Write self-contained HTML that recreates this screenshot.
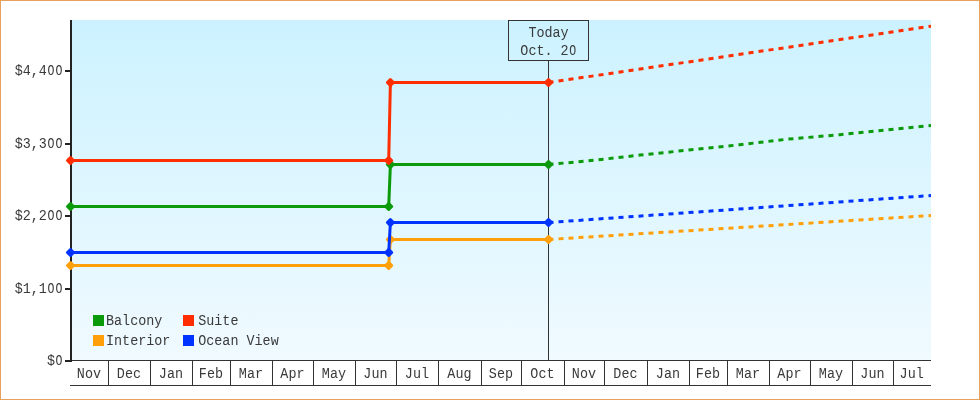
<!DOCTYPE html>
<html><head><meta charset="utf-8"><title>Chart</title>
<style>
html,body{margin:0;padding:0;background:#fff;}
body{width:980px;height:400px;overflow:hidden;}
svg{display:block;will-change:transform;font-family:"Liberation Mono",monospace;font-size:15px;}
</style></head><body>
<svg width="980" height="400" viewBox="0 0 980 400">
<defs>
<linearGradient id="bg" x1="0" y1="0" x2="0" y2="1">
<stop offset="0" stop-color="#ccf2ff"/><stop offset="1" stop-color="#f0faff"/>
</linearGradient>
<clipPath id="plot"><rect x="60" y="20" width="871" height="345"/></clipPath>
</defs>
<rect x="0" y="0" width="980" height="400" fill="#ffffff"/>
<rect x="0.5" y="0.5" width="979" height="399" fill="none" stroke="#e8a05a" stroke-width="1"/>
<rect x="72" y="20" width="859" height="340" fill="url(#bg)"/>

<rect x="72" y="360" width="859" height="1" fill="#333333"/>
<rect x="70" y="385" width="861" height="1" fill="#333333"/>
<rect x="108" y="360" width="1" height="25" fill="#333333"/>
<rect x="150" y="360" width="1" height="25" fill="#333333"/>
<rect x="192" y="360" width="1" height="25" fill="#333333"/>
<rect x="230" y="360" width="1" height="25" fill="#333333"/>
<rect x="272" y="360" width="1" height="25" fill="#333333"/>
<rect x="313" y="360" width="1" height="25" fill="#333333"/>
<rect x="355" y="360" width="1" height="25" fill="#333333"/>
<rect x="396" y="360" width="1" height="25" fill="#333333"/>
<rect x="438" y="360" width="1" height="25" fill="#333333"/>
<rect x="481" y="360" width="1" height="25" fill="#333333"/>
<rect x="521" y="360" width="1" height="25" fill="#333333"/>
<rect x="564" y="360" width="1" height="25" fill="#333333"/>
<rect x="604" y="360" width="1" height="25" fill="#333333"/>
<rect x="647" y="360" width="1" height="25" fill="#333333"/>
<rect x="689" y="360" width="1" height="25" fill="#333333"/>
<rect x="727" y="360" width="1" height="25" fill="#333333"/>
<rect x="769" y="360" width="1" height="25" fill="#333333"/>
<rect x="810" y="360" width="1" height="25" fill="#333333"/>
<rect x="852" y="360" width="1" height="25" fill="#333333"/>
<rect x="893" y="360" width="1" height="25" fill="#333333"/>
<text xml:space="preserve" transform="translate(88.9,378) scale(0.895,1)" text-anchor="middle" fill="#3a3a3a">Nov</text>
<text xml:space="preserve" transform="translate(128.9,378) scale(0.895,1)" text-anchor="middle" fill="#3a3a3a">Dec</text>
<text xml:space="preserve" transform="translate(170.9,378) scale(0.895,1)" text-anchor="middle" fill="#3a3a3a">Jan</text>
<text xml:space="preserve" transform="translate(210.9,378) scale(0.895,1)" text-anchor="middle" fill="#3a3a3a">Feb</text>
<text xml:space="preserve" transform="translate(250.9,378) scale(0.895,1)" text-anchor="middle" fill="#3a3a3a">Mar</text>
<text xml:space="preserve" transform="translate(292.4,378) scale(0.895,1)" text-anchor="middle" fill="#3a3a3a">Apr</text>
<text xml:space="preserve" transform="translate(333.9,378) scale(0.895,1)" text-anchor="middle" fill="#3a3a3a">May</text>
<text xml:space="preserve" transform="translate(375.4,378) scale(0.895,1)" text-anchor="middle" fill="#3a3a3a">Jun</text>
<text xml:space="preserve" transform="translate(416.9,378) scale(0.895,1)" text-anchor="middle" fill="#3a3a3a">Jul</text>
<text xml:space="preserve" transform="translate(459.4,378) scale(0.895,1)" text-anchor="middle" fill="#3a3a3a">Aug</text>
<text xml:space="preserve" transform="translate(500.9,378) scale(0.895,1)" text-anchor="middle" fill="#3a3a3a">Sep</text>
<text xml:space="preserve" transform="translate(542.4,378) scale(0.895,1)" text-anchor="middle" fill="#3a3a3a">Oct</text>
<text xml:space="preserve" transform="translate(583.9,378) scale(0.895,1)" text-anchor="middle" fill="#3a3a3a">Nov</text>
<text xml:space="preserve" transform="translate(625.4,378) scale(0.895,1)" text-anchor="middle" fill="#3a3a3a">Dec</text>
<text xml:space="preserve" transform="translate(667.9,378) scale(0.895,1)" text-anchor="middle" fill="#3a3a3a">Jan</text>
<text xml:space="preserve" transform="translate(707.9,378) scale(0.895,1)" text-anchor="middle" fill="#3a3a3a">Feb</text>
<text xml:space="preserve" transform="translate(747.9,378) scale(0.895,1)" text-anchor="middle" fill="#3a3a3a">Mar</text>
<text xml:space="preserve" transform="translate(789.4,378) scale(0.895,1)" text-anchor="middle" fill="#3a3a3a">Apr</text>
<text xml:space="preserve" transform="translate(830.9,378) scale(0.895,1)" text-anchor="middle" fill="#3a3a3a">May</text>
<text xml:space="preserve" transform="translate(872.4,378) scale(0.895,1)" text-anchor="middle" fill="#3a3a3a">Jun</text>
<text xml:space="preserve" transform="translate(911.65,378) scale(0.895,1)" text-anchor="middle" fill="#3a3a3a">Jul</text>
<rect x="70" y="20" width="2" height="342" fill="#222222"/>
<rect x="65" y="70" width="6" height="2" fill="#222222"/>
<text transform="translate(50.92,75) scale(0.770,1)" text-anchor="middle" fill="#3a3a3a">O</text>
<text transform="translate(58.97,75) scale(0.770,1)" text-anchor="middle" fill="#3a3a3a">O</text>
<text xml:space="preserve" transform="translate(63,75) scale(0.895,1)" text-anchor="end" fill="#3a3a3a">$4,4  </text>
<rect x="65" y="143" width="6" height="2" fill="#222222"/>
<text transform="translate(50.92,148) scale(0.770,1)" text-anchor="middle" fill="#3a3a3a">O</text>
<text transform="translate(58.97,148) scale(0.770,1)" text-anchor="middle" fill="#3a3a3a">O</text>
<text xml:space="preserve" transform="translate(63,148) scale(0.895,1)" text-anchor="end" fill="#3a3a3a">$3,3  </text>
<rect x="65" y="215" width="6" height="2" fill="#222222"/>
<text transform="translate(50.92,220) scale(0.770,1)" text-anchor="middle" fill="#3a3a3a">O</text>
<text transform="translate(58.97,220) scale(0.770,1)" text-anchor="middle" fill="#3a3a3a">O</text>
<text xml:space="preserve" transform="translate(63,220) scale(0.895,1)" text-anchor="end" fill="#3a3a3a">$2,2  </text>
<rect x="65" y="288" width="6" height="2" fill="#222222"/>
<text transform="translate(50.92,293) scale(0.770,1)" text-anchor="middle" fill="#3a3a3a">O</text>
<text transform="translate(58.97,293) scale(0.770,1)" text-anchor="middle" fill="#3a3a3a">O</text>
<text xml:space="preserve" transform="translate(63,293) scale(0.895,1)" text-anchor="end" fill="#3a3a3a">$1,1  </text>
<rect x="65" y="360" width="6" height="2" fill="#222222"/>
<text transform="translate(58.97,365) scale(0.770,1)" text-anchor="middle" fill="#3a3a3a">O</text>
<text xml:space="preserve" transform="translate(63,365) scale(0.895,1)" text-anchor="end" fill="#3a3a3a">$ </text>
<rect x="548" y="60" width="1" height="300" fill="#333333"/>
<rect x="508.5" y="20.5" width="80" height="40" fill="none" stroke="#333333" stroke-width="1"/>
<text xml:space="preserve" transform="translate(548.5,37) scale(0.895,1)" text-anchor="middle" fill="#3a3a3a">Today</text>
<text transform="translate(572.66,55) scale(0.770,1)" text-anchor="middle" fill="#3a3a3a">O</text>
<text xml:space="preserve" transform="translate(548.5,55) scale(0.895,1)" text-anchor="middle" fill="#3a3a3a">Oct. 2 </text>
<g clip-path="url(#plot)">
<polyline points="70.5,206.5 388.7,206.5 390.4,164.5 548.5,164.5" fill="none" stroke="#0a9a0a" stroke-width="3" stroke-linejoin="round"/>
<polyline points="548.5,164.5 591,160.6 640,155.1 740,144.7 787,139.2 840,134.7 931,125.5" fill="none" stroke="#0a9a0a" stroke-width="3" pathLength="382.5" stroke-dasharray="5 5"/>
<path d="M67.5,206.5 L70.5,203.5 L73.5,206.5 L70.5,209.5 Z" fill="#0a9a0a" stroke="#0a9a0a" stroke-width="3" stroke-linejoin="round"/>
<path d="M385.7,206.5 L388.7,203.5 L391.7,206.5 L388.7,209.5 Z" fill="#0a9a0a" stroke="#0a9a0a" stroke-width="3" stroke-linejoin="round"/>
<path d="M387.4,164.5 L390.4,161.5 L393.4,164.5 L390.4,167.5 Z" fill="#0a9a0a" stroke="#0a9a0a" stroke-width="3" stroke-linejoin="round"/>
<path d="M545.5,164.5 L548.5,161.5 L551.5,164.5 L548.5,167.5 Z" fill="#0a9a0a" stroke="#0a9a0a" stroke-width="3" stroke-linejoin="round"/>
<polyline points="70.5,160.5 388.7,160.5 390.4,82.5 548.5,82.5" fill="none" stroke="#ff2d00" stroke-width="3" stroke-linejoin="round"/>
<polyline points="548.5,82.5 931,26.2" fill="none" stroke="#ff2d00" stroke-width="3" pathLength="382.5" stroke-dasharray="5 5"/>
<path d="M67.5,160.5 L70.5,157.5 L73.5,160.5 L70.5,163.5 Z" fill="#ff2d00" stroke="#ff2d00" stroke-width="3" stroke-linejoin="round"/>
<path d="M385.7,160.5 L388.7,157.5 L391.7,160.5 L388.7,163.5 Z" fill="#ff2d00" stroke="#ff2d00" stroke-width="3" stroke-linejoin="round"/>
<path d="M387.4,82.5 L390.4,79.5 L393.4,82.5 L390.4,85.5 Z" fill="#ff2d00" stroke="#ff2d00" stroke-width="3" stroke-linejoin="round"/>
<path d="M545.5,82.5 L548.5,79.5 L551.5,82.5 L548.5,85.5 Z" fill="#ff2d00" stroke="#ff2d00" stroke-width="3" stroke-linejoin="round"/>
<polyline points="70.5,265.5 388.7,265.5 390.4,239.5 548.5,239.5" fill="none" stroke="#ffa00a" stroke-width="3" stroke-linejoin="round"/>
<polyline points="548.5,239.5 931,215.5" fill="none" stroke="#ffa00a" stroke-width="3" pathLength="382.5" stroke-dasharray="5 5"/>
<path d="M67.5,265.5 L70.5,262.5 L73.5,265.5 L70.5,268.5 Z" fill="#ffa00a" stroke="#ffa00a" stroke-width="3" stroke-linejoin="round"/>
<path d="M385.7,265.5 L388.7,262.5 L391.7,265.5 L388.7,268.5 Z" fill="#ffa00a" stroke="#ffa00a" stroke-width="3" stroke-linejoin="round"/>
<path d="M387.4,239.5 L390.4,236.5 L393.4,239.5 L390.4,242.5 Z" fill="#ffa00a" stroke="#ffa00a" stroke-width="3" stroke-linejoin="round"/>
<path d="M545.5,239.5 L548.5,236.5 L551.5,239.5 L548.5,242.5 Z" fill="#ffa00a" stroke="#ffa00a" stroke-width="3" stroke-linejoin="round"/>
<polyline points="70.5,252.5 388.7,252.5 390.4,222.5 548.5,222.5" fill="none" stroke="#0033ff" stroke-width="3" stroke-linejoin="round"/>
<polyline points="548.5,222.5 931,195.5" fill="none" stroke="#0033ff" stroke-width="3" pathLength="382.5" stroke-dasharray="5 5"/>
<path d="M67.5,252.5 L70.5,249.5 L73.5,252.5 L70.5,255.5 Z" fill="#0033ff" stroke="#0033ff" stroke-width="3" stroke-linejoin="round"/>
<path d="M385.7,252.5 L388.7,249.5 L391.7,252.5 L388.7,255.5 Z" fill="#0033ff" stroke="#0033ff" stroke-width="3" stroke-linejoin="round"/>
<path d="M387.4,222.5 L390.4,219.5 L393.4,222.5 L390.4,225.5 Z" fill="#0033ff" stroke="#0033ff" stroke-width="3" stroke-linejoin="round"/>
<path d="M545.5,222.5 L548.5,219.5 L551.5,222.5 L548.5,225.5 Z" fill="#0033ff" stroke="#0033ff" stroke-width="3" stroke-linejoin="round"/>
</g>
<rect x="93" y="315" width="11" height="11" fill="#0a9a0a"/>
<text xml:space="preserve" transform="translate(106.0,325) scale(0.895,1)" text-anchor="start" fill="#3a3a3a">Balcony</text>
<rect x="183" y="315" width="11" height="11" fill="#ff2d00"/>
<text xml:space="preserve" transform="translate(198.2,325) scale(0.895,1)" text-anchor="start" fill="#3a3a3a">Suite</text>
<rect x="93" y="335" width="11" height="11" fill="#ffa00a"/>
<text xml:space="preserve" transform="translate(106.0,345) scale(0.895,1)" text-anchor="start" fill="#3a3a3a">Interior</text>
<rect x="183" y="335" width="11" height="11" fill="#0033ff"/>
<text xml:space="preserve" transform="translate(198.2,345) scale(0.895,1)" text-anchor="start" fill="#3a3a3a">Ocean View</text>
</svg></body></html>
